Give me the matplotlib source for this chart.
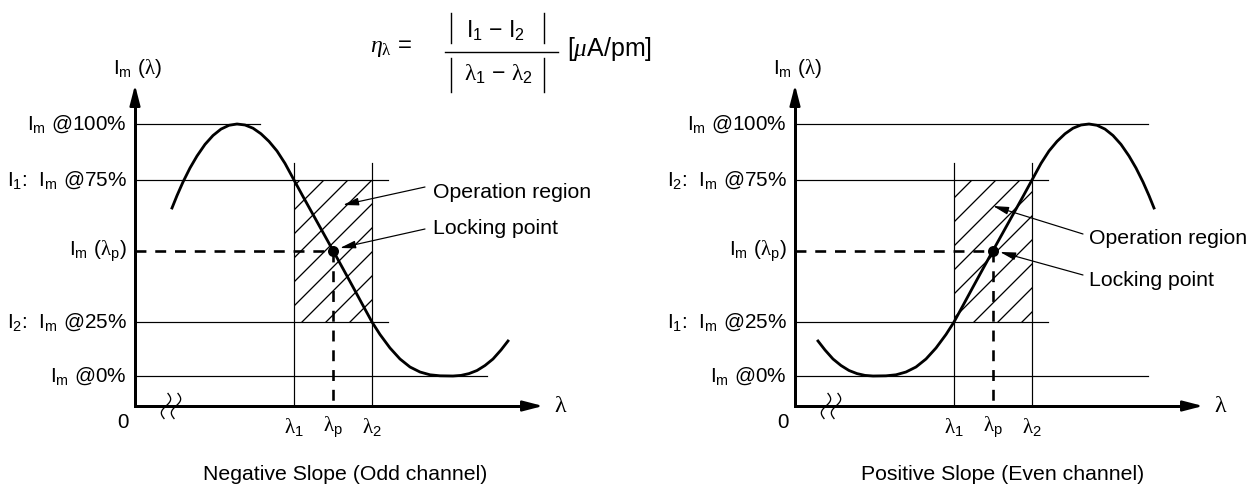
import numpy as np
import matplotlib
matplotlib.use('Agg')
import matplotlib.pyplot as plt
from matplotlib.patches import Rectangle

plt.rcParams['font.family'] = ['Liberation Sans', 'DejaVu Sans']
plt.rcParams['mathtext.fontset'] = 'custom'
plt.rcParams['mathtext.rm'] = 'Liberation Sans'
plt.rcParams['mathtext.it'] = 'Liberation Serif:italic'
plt.rcParams['mathtext.sf'] = 'Liberation Serif'
plt.rcParams['hatch.linewidth'] = 0.65

# ---------------- data (schematic units, origin at the axes corner) ----------------
# signal levels: 100%, 75%, locking point, 25%, 0%
levels = [282, 226, 155, 84, 30]
lam1, lamp, lam2 = 159, 198, 237          # wavelengths λ1, λp, λ2
lam_line_top = 243
y_axis_top = 321
x_axis_end = 408

left_level_labels = ['I$_{\\mathrm{m}}$ @100%', 'I$_{\\mathrm{1}}$:  I$_{\\mathrm{m}}$ @75%',
                     'I$_{\\mathrm{m}}$ ($\\mathsf{\\lambda}_{\\mathrm{p}}$)',
                     'I$_{\\mathrm{2}}$:  I$_{\\mathrm{m}}$ @25%', 'I$_{\\mathrm{m}}$ @0%']
right_level_labels = ['I$_{\\mathrm{m}}$ @100%', 'I$_{\\mathrm{2}}$:  I$_{\\mathrm{m}}$ @75%',
                      'I$_{\\mathrm{m}}$ ($\\mathsf{\\lambda}_{\\mathrm{p}}$)',
                      'I$_{\\mathrm{1}}$:  I$_{\\mathrm{m}}$ @25%', 'I$_{\\mathrm{m}}$ @0%']
left_line_ends = [125, 253, None, 253, 352]
right_line_ends = [353, 253, None, 253, 353]

# negative-slope (odd channel) response curve
left_curve_x = [37, 42, 48, 55, 62, 70, 78, 86, 94, 102, 110, 118, 126, 134, 142, 150, 159,
                168, 178, 188, 198, 208, 218, 228, 237, 245, 255, 265, 275, 285, 295, 305,
                318, 326, 334, 342, 350, 358, 366, 373]
left_curve_y = [198, 210.4, 224, 238, 250, 261.6, 270.5, 276.9, 280.7, 282, 281, 277.8, 272.2,
                264.6, 255, 242.6, 226, 209.5, 191.5, 173.5, 155.5, 137.3, 119, 100.5, 84,
                71.5, 58, 47, 39, 34, 31.2, 30.2, 30, 30.6, 32.4, 35.5, 40.5, 47, 56, 65]
# positive-slope (even channel) response curve
right_curve_x = [23, 30, 38, 46, 54, 62, 70, 78, 91, 101, 111, 121, 131, 141, 151, 159, 168,
                 178, 188, 198, 208, 218, 228, 237, 246, 254, 262, 270, 278, 286, 294, 302,
                 310, 318, 326, 334, 341, 348, 354, 359]
right_curve_y = [65, 56, 47, 40.5, 35.5, 32.4, 30.6, 30, 30.2, 31.2, 34, 39, 47, 58, 71.5, 84,
                 100.5, 119, 137.3, 155.5, 173.5, 191.5, 209.5, 226, 242.6, 255, 264.6, 272.2,
                 277.8, 281, 282, 280.7, 276.9, 270.5, 261.6, 250, 238, 224, 210.4, 198]

# annotation arrows: (text, text position, arrow tail, arrow tip)
left_notes = [('Operation region', (298, 214), (290, 219), (208, 201)),
              ('Locking point', (298, 178), (290, 177), (205, 158))]
right_notes = [('Operation region', (294, 167), (288, 172), (198, 200)),
               ('Locking point', (294, 125), (288, 131), (205, 154))]

captions = ['Negative Slope (Odd channel)', 'Positive Slope (Even channel)']

# ---------------- figure ----------------
DPI = 144
W, H = 1248, 498
fig = plt.figure(figsize=(W / DPI, H / DPI), dpi=DPI)
FS = 10.4
FS_NOTE = 10.6
FS_EQ = 11.5
LW_THIN = 0.6


def make_panel(rect, xlim):
    ax = fig.add_axes(rect)
    ax.set_xlim(*xlim)
    ax.set_ylim(-92, 406)
    ax.axis('off')
    return ax


def break_mark(ax, x0):
    t = np.linspace(-1, 1, 40)
    for dx in (0, 10):
        ax.plot(x0 + dx + 2.0 * t + 3.6 * np.sin(np.pi * t), 12.5 * t, color='k', lw=0.65)


def draw_panel(ax, cx, cy, labels, ends, notes):
    # axes with arrows
    ax.plot([0, 0, x_axis_end - 10], [y_axis_top - 10, 0, 0], color='k', lw=1.5,
            solid_joinstyle='miter', solid_capstyle='butt')
    head = dict(arrowstyle='-|>,head_length=0.85,head_width=0.22', color='k', lw=1.2,
                shrinkA=0, shrinkB=0)
    ax.annotate('', xy=(0, y_axis_top), xytext=(0, y_axis_top - 20), arrowprops=head)
    ax.annotate('', xy=(x_axis_end, 0), xytext=(x_axis_end - 20, 0), arrowprops=head)
    # level lines and labels
    for lv, lab, end in zip(levels, labels, ends):
        if end is not None:
            ax.plot([0, end], [lv, lv], color='k', lw=LW_THIN)
        ax.text(-8, lv, lab, ha='right', va='center', fontsize=FS)
    # wavelength lines
    for lx in (lam1, lam2):
        ax.plot([lx, lx], [0, lam_line_top], color='k', lw=LW_THIN)
    # hatched operation region
    ax.add_patch(Rectangle((lam1, levels[3]), lam2 - lam1, levels[1] - levels[3],
                           fill=False, hatch='//', edgecolor='k', lw=0))
    # locking point guides
    dash = (0, (4.2, 3.4))
    ax.plot([0, lamp], [levels[2], levels[2]], color='k', lw=1.3, ls=dash)
    ax.plot([lamp, lamp], [levels[2], 0], color='k', lw=1.3, ls=dash)
    # response curve
    ax.plot(cx, cy, color='k', lw=1.4, solid_joinstyle='round')
    ax.plot([lamp], [levels[2]], 'o', color='k', ms=4.5)
    # annotations
    for txt, tpos, tail, tip in notes:
        ax.annotate('', xy=tip, xytext=tail,
                    arrowprops=dict(arrowstyle='-|>,head_length=0.65,head_width=0.16',
                                    color='k', lw=0.6, shrinkA=0, shrinkB=0))
        ax.text(tpos[0], tpos[1], txt, ha='left', va='center', fontsize=FS_NOTE)
    # axis texts
    ax.text(2, 338, 'I$_{\\mathrm{m}}$ ($\\mathsf{\\lambda}$)', ha='center', va='center',
            fontsize=FS)
    ax.text(-12, -17, '0', ha='center', va='center', fontsize=FS)
    ax.text(426, 0, '$\\mathsf{\\lambda}$', ha='center', va='center', fontsize=12)
    for lx, s in ((lam1, '1'), (lamp, 'p'), (lam2, '2')):
        ax.text(lx, -21, '$\\mathsf{\\lambda}_{\\mathrm{%s}}$' % s, ha='center', va='center',
                fontsize=10.5)
    break_mark(ax, 31)


axL = make_panel([0, 0, 0.5, 1], (-135, 489))
axR = make_panel([0.5, 0, 0.5, 1], (-171, 453))
draw_panel(axL, left_curve_x, left_curve_y, left_level_labels, left_line_ends, left_notes)
draw_panel(axR, right_curve_x, right_curve_y, right_level_labels, right_line_ends, right_notes)

# overlay for formula and captions (pixel-like coordinates)
ov = fig.add_axes([0, 0, 1, 1])
ov.set_xlim(0, W)
ov.set_ylim(H, 0)
ov.axis('off')
ov.patch.set_alpha(0)
ov.text(370, 48, '$\\eta_{\\mathsf{\\lambda}}$ =', ha='left', va='center', fontsize=12)
for bx in (451, 544):
    ov.plot([bx, bx], [13, 43], color='k', lw=0.7)
    ov.plot([bx, bx], [58, 92], color='k', lw=0.7)
ov.text(496, 31, 'I$_{\\mathrm{1}}$ \u2212 I$_{\\mathrm{2}}$', ha='center', va='center',
        fontsize=FS_EQ)
ov.text(498, 74, '$\\mathsf{\\lambda}_{\\mathrm{1}}$ \u2212 $\\mathsf{\\lambda}_{\\mathrm{2}}$',
        ha='center', va='center', fontsize=FS_EQ)
ov.plot([445, 558], [52, 52], color='k', lw=0.7)
ov.text(567, 49, '[$\\mu$A/pm]', ha='left', va='center', fontsize=12.5)
ov.text(345, 474, captions[0], ha='center', va='center', fontsize=FS_NOTE)
ov.text(1003, 474, captions[1], ha='center', va='center', fontsize=FS_NOTE)

fig.savefig('out.png', dpi=DPI)
